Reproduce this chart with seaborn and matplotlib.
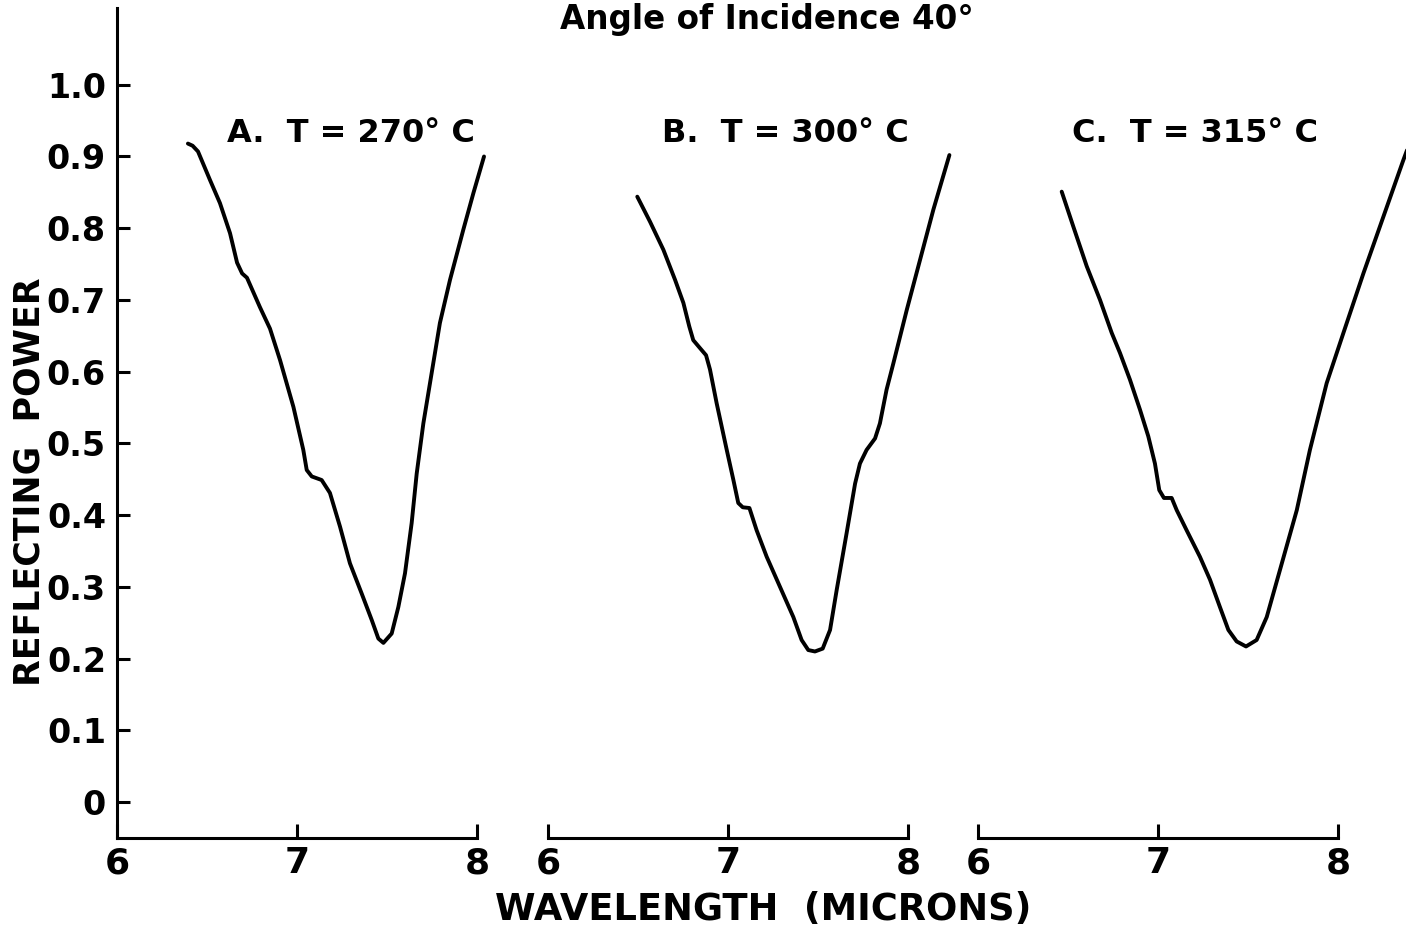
import numpy as np
import pandas as pd
import matplotlib
matplotlib.use("Agg")
import matplotlib.pyplot as plt
import seaborn as sns

# ---- data ----
wl_a = [6.394, 6.42, 6.45, 6.517, 6.572, 6.628, 6.667, 6.695, 6.722, 6.794, 6.850,
        6.906, 6.980, 7.035, 7.054, 7.082, 7.137, 7.183, 7.239, 7.294, 7.359, 7.415,
        7.452, 7.480, 7.526, 7.563, 7.600, 7.637, 7.665, 7.702, 7.748, 7.794, 7.850,
        7.924, 7.980, 8.039]
rp_a = [0.918, 0.915, 0.907, 0.867, 0.835, 0.793, 0.752, 0.737, 0.731, 0.690, 0.660,
        0.616, 0.551, 0.491, 0.463, 0.454, 0.449, 0.431, 0.384, 0.333, 0.291, 0.254,
        0.228, 0.222, 0.235, 0.272, 0.319, 0.389, 0.458, 0.528, 0.598, 0.668, 0.728,
        0.798, 0.849, 0.900]

wl_b = [6.496, 6.567, 6.641, 6.706, 6.752, 6.785, 6.807, 6.844, 6.878, 6.9, 6.937,
        6.993, 7.030, 7.057, 7.082, 7.119, 7.159, 7.215, 7.289, 7.363, 7.409, 7.446,
        7.483, 7.526, 7.567, 7.604, 7.659, 7.706, 7.733, 7.770, 7.817, 7.844, 7.881,
        7.919, 7.993, 8.067, 8.141, 8.230]
rp_b = [0.844, 0.809, 0.770, 0.728, 0.696, 0.663, 0.644, 0.633, 0.623, 0.603, 0.556,
        0.491, 0.449, 0.417, 0.411, 0.410, 0.379, 0.342, 0.300, 0.258, 0.226, 0.212,
        0.210, 0.214, 0.240, 0.296, 0.375, 0.444, 0.472, 0.491, 0.507, 0.528, 0.575,
        0.612, 0.686, 0.756, 0.826, 0.902]

wl_c = [6.465, 6.530, 6.604, 6.678, 6.743, 6.789, 6.844, 6.9, 6.946, 6.983, 7.007,
        7.033, 7.076, 7.104, 7.159, 7.233, 7.289, 7.344, 7.391, 7.437, 7.489, 7.548,
        7.604, 7.678, 7.771, 7.844, 7.937, 8.030, 8.141, 8.252, 8.363, 8.40]
rp_c = [0.851, 0.802, 0.747, 0.700, 0.654, 0.626, 0.589, 0.547, 0.510, 0.472, 0.435,
        0.424, 0.424, 0.407, 0.379, 0.342, 0.310, 0.272, 0.240, 0.224, 0.217, 0.226,
        0.258, 0.324, 0.407, 0.491, 0.584, 0.654, 0.737, 0.816, 0.895, 0.92]

panel_labels = ["A.  T = 270° C", "B.  T = 300° C", "C.  T = 315° C"]
x_ticks = [6, 7, 8]
x_tick_labels = ["6", "7", "8"]
y_ticks = [0, 0.1, 0.2, 0.3, 0.4, 0.5, 0.6, 0.7, 0.8, 0.9, 1.0]
y_tick_labels = ["0", "0.1", "0.2", "0.3", "0.4", "0.5", "0.6", "0.7", "0.8", "0.9", "1.0"]
title = "Angle of Incidence 40°"
x_label = "WAVELENGTH  (MICRONS)"
y_label = "REFLECTING  POWER"

# ---- styling ----
sns.set_style("ticks")
plt.rcParams["font.family"] = ["DejaVu Sans"]
plt.rcParams["font.weight"] = "bold"
plt.rcParams["text.color"] = "black"
plt.rcParams["axes.edgecolor"] = "black"
plt.rcParams["xtick.color"] = "black"
plt.rcParams["ytick.color"] = "black"
plt.rcParams["axes.labelcolor"] = "black"

W, H = 1406, 934
fig = plt.figure(figsize=(W / 100, H / 100), dpi=100, facecolor="white")

def fx(px):
    return px / W

def fy(py):
    return 1 - py / H

ax_bottom = fy(838)
ax_h = fy(8) - fy(838)
lefts_px = [117, 548, 978]
width_px = 360

series = [(wl_a, rp_a), (wl_b, rp_b), (wl_c, rp_c)]
label_cx = [351, 785, 1195]

for i, (lx, (wl, rp)) in enumerate(zip(lefts_px, series)):
    ax = fig.add_axes([fx(lx), ax_bottom, width_px / W, ax_h])
    df = pd.DataFrame({"wavelength": wl, "power": rp})
    sns.lineplot(data=df, x="wavelength", y="power", ax=ax, color="black",
                 linewidth=2.8, estimator=None, sort=False, clip_on=False,
                 solid_joinstyle="round", solid_capstyle="round")
    ax.set_xlim(6, 8)
    ax.set_ylim(-0.05, 1.107)
    ax.set_xlabel("")
    ax.set_ylabel("")
    ax.set_facecolor("none")
    for s in ["top", "right"]:
        ax.spines[s].set_visible(False)
    ax.spines["bottom"].set_linewidth(2.2)
    ax.spines["left"].set_linewidth(2.2)
    ax.set_xticks(x_ticks)
    ax.set_xticklabels(x_tick_labels, fontsize=26, fontweight="bold")
    ax.tick_params(axis="x", direction="in", length=10, width=2.2, pad=6)
    if i == 0:
        ax.set_yticks(y_ticks)
        ax.set_yticklabels(y_tick_labels, fontsize=24, fontweight="bold")
        ax.tick_params(axis="y", direction="in", length=9, width=2.2, pad=8)
    else:
        ax.spines["left"].set_visible(False)
        ax.set_yticks([])
    fig.text(fx(label_cx[i]), fy(133), panel_labels[i], ha="center", va="center",
             fontsize=23, fontweight="bold")

fig.text(fx(767), fy(20), title, ha="center", va="center", fontsize=23.5, fontweight="bold")
fig.text(fx(763), fy(910), x_label, ha="center", va="center", fontsize=26.5, fontweight="bold")
fig.text(fx(30), fy(482), y_label, ha="center", va="center", rotation=90,
         fontsize=25, fontweight="bold")

fig.savefig("out.png", dpi=100, facecolor="white")
